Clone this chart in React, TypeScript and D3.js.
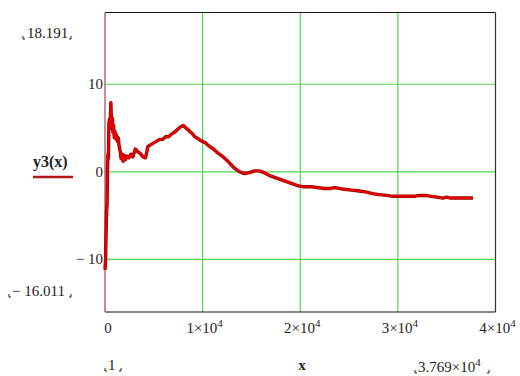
import React from 'react';
import * as d3 from 'd3';

// y3(x) samples
const xVals = [
  1, 60, 110, 160, 210, 260, 300, 350, 400, 460, 520, 600, 650, 700, 760, 820, 880, 950,
  1020, 1100, 1180, 1250, 1350, 1450, 1550, 1650, 1750, 1850, 1950, 2100, 2250, 2450, 2650,
  2850, 3100, 3350, 3600, 3900, 4150, 4400, 4700, 5000, 5300, 5600, 5900, 6200, 6500, 6800,
  7100, 7400, 7700, 8000, 8300, 8600, 8900, 9200, 9500, 9900, 10300, 10700, 11100, 11500,
  12000, 12500, 13000, 13400, 13800, 14300, 14800, 15300, 15800, 16300, 16800, 17300, 17800,
  18300, 18800, 19300, 19800, 20300, 21000, 21700, 22400, 23100, 23500, 24000, 24500, 25300,
  26000, 26700, 27400, 28100, 28800, 29500, 30300, 31000, 31700, 32200, 32800, 33400, 34000,
  34600, 35000, 35400, 36000, 36800, 37690,
];
const yVals = [
  -11.2, -10.0, -7.0, -4.5, -3.8, 0.5, 2.0, 1.5, 5.5, 6.0, 5.0, 7.9, 6.0, 5.2, 6.1, 4.5, 5.3, 3.9,
  4.6, 3.8, 4.2, 3.5, 3.9, 2.9, 2.4, 1.5, 2.0, 1.2, 1.9, 1.4, 1.8, 1.6, 2.0,
  1.7, 2.6, 2.3, 2.1, 1.7, 1.6, 2.9, 3.1, 3.3, 3.5, 3.7, 3.7, 4.0, 4.0, 4.3,
  4.5, 4.8, 5.1, 5.3, 5.0, 4.7, 4.4, 4.0, 3.8, 3.5, 3.3, 2.9, 2.6, 2.2,
  1.8, 1.3, 0.7, 0.3, 0.0, -0.2, -0.1, 0.1, 0.1, -0.1, -0.4, -0.6, -0.8,
  -1.0, -1.2, -1.4, -1.6, -1.7, -1.7, -1.8, -1.9, -1.9, -1.8, -1.9, -2.0, -2.1,
  -2.2, -2.3, -2.5, -2.6, -2.7, -2.8, -2.8, -2.8, -2.8, -2.7, -2.7, -2.8, -2.9,
  -3.0, -2.9, -3.0, -3.0, -3.0, -3.0,
];

const yTicks = [10, 0, -10];
const yTickLabels = ['10', '0', '\u2212 10'];
const xTicks = [0, 10000, 20000, 30000, 40000];
const xGrid = [10000, 20000, 30000];
const yMin = -16.011;
const yMax = 18.191;
const yMinLabel = '\u2212 16.011';
const yMaxLabel = '18.191';
const xMinLabel = '1';
const xMaxMant = '3.769\u00d710';
const xMaxExp = '4';
const seriesName = 'y3(x)';
const xName = 'x';

const FONT = '"Liberation Serif", "DejaVu Serif", serif';

function Corners({ x0, x1, y }: { x0: number; x1: number; y: number }) {
  return (
    <g stroke="#222" strokeWidth={1} fill="none">
      <path d={`M${x0},${y - 3}V${y}H${x0 + 2}`} />
      <path d={`M${x1},${y - 3}V${y}H${x1 - 2}`} />
    </g>
  );
}

export default function App() {
  const width = 520;
  const height = 376;
  const left = 105;
  const right = 495.5;
  const top = 12.5;
  const bottom = 312;

  const x = d3.scaleLinear().domain([0, 40000]).range([left, right]);
  const y = d3.scaleLinear().domain([yMin, yMax]).range([bottom, top]);

  const pts: [number, number][] = xVals.map((v, i) => [v, yVals[i]]);
  const line = d3.line<[number, number]>().x(d => x(d[0])).y(d => y(d[1]));
  const path = line(pts) || '';

  return (
    <svg
      width={width}
      height={height}
      style={{ position: 'absolute', left: 0, top: 0, background: '#fff' }}
      fontFamily={FONT}
    >
      <rect width={width} height={height} fill="#fff" />
      {/* grid */}
      {yTicks.map(t => (
        <line key={`gy${t}`} x1={left} x2={right} y1={y(t)} y2={y(t)} stroke="#4fd84f" strokeWidth={1.2} />
      ))}
      {xGrid.map(t => (
        <line key={`gx${t}`} x1={x(t)} x2={x(t)} y1={top} y2={bottom} stroke="#4fd84f" strokeWidth={1.2} />
      ))}
      {/* frame */}
      <line x1={left} x2={right} y1={top} y2={top} stroke="#111" strokeWidth={1.2} />
      <line x1={left} x2={right} y1={bottom} y2={bottom} stroke="#111" strokeWidth={1.2} />
      <line x1={right} x2={right} y1={top} y2={bottom} stroke="#333" strokeWidth={1.2} />
      <line x1={left} x2={left} y1={top} y2={bottom} stroke="#a84040" strokeWidth={1.2} />

      {/* curve */}
      <path d={path} fill="none" stroke="#9a0000" strokeWidth={3.4} strokeLinejoin="round" />
      <path d={path} fill="none" stroke="#e80000" strokeWidth={2} strokeLinejoin="round" />

      {/* y tick labels */}
      {yTicks.map((t, i) => (
        <text key={`yl${t}`} x={left - 2} y={y(t) + 5} textAnchor="end" fontSize={15} fill="#222">
          {yTickLabels[i]}
        </text>
      ))}

      {/* x tick labels */}
      {xTicks.map(t => (
        <text key={`xl${t}`} x={x(t) + (t === 0 ? 3 : 2)} y={333} textAnchor="middle" fontSize={15} fill="#222">
          {t === 0 ? '0' : (
            <>
              {`${t / 10000}\u00d710`}
              <tspan dy={-6} fontSize={11}>4</tspan>
            </>
          )}
        </text>
      ))}

      {/* range labels */}
      <text x={27} y={38} fontSize={15} fill="#222">{yMaxLabel}</text>
      <Corners x0={23} x1={71} y={39} />
      <text x={12} y={296} fontSize={15} fill="#222">{yMinLabel}</text>
      <Corners x0={9} x1={71} y={297} />
      <text x={108} y={370} fontSize={15} fill="#222">{xMinLabel}</text>
      <Corners x0={105} x1={121} y={371} />
      <text x={418} y={372} fontSize={15} fill="#222">
        {xMaxMant}
        <tspan dy={-6} fontSize={11}>{xMaxExp}</tspan>
      </text>
      <Corners x0={415} x1={489} y={373} />

      {/* axis name */}
      <text x={302} y={370} textAnchor="middle" fontSize={15} fontWeight="bold" fill="#222">{xName}</text>

      {/* legend */}
      <text x={33} y={167} fontSize={16} fontWeight="bold" fill="#222">{seriesName}</text>
      <line x1={33} x2={73} y1={177} y2={177} stroke="#b01818" strokeWidth={2.5} />
    </svg>
  );
}
